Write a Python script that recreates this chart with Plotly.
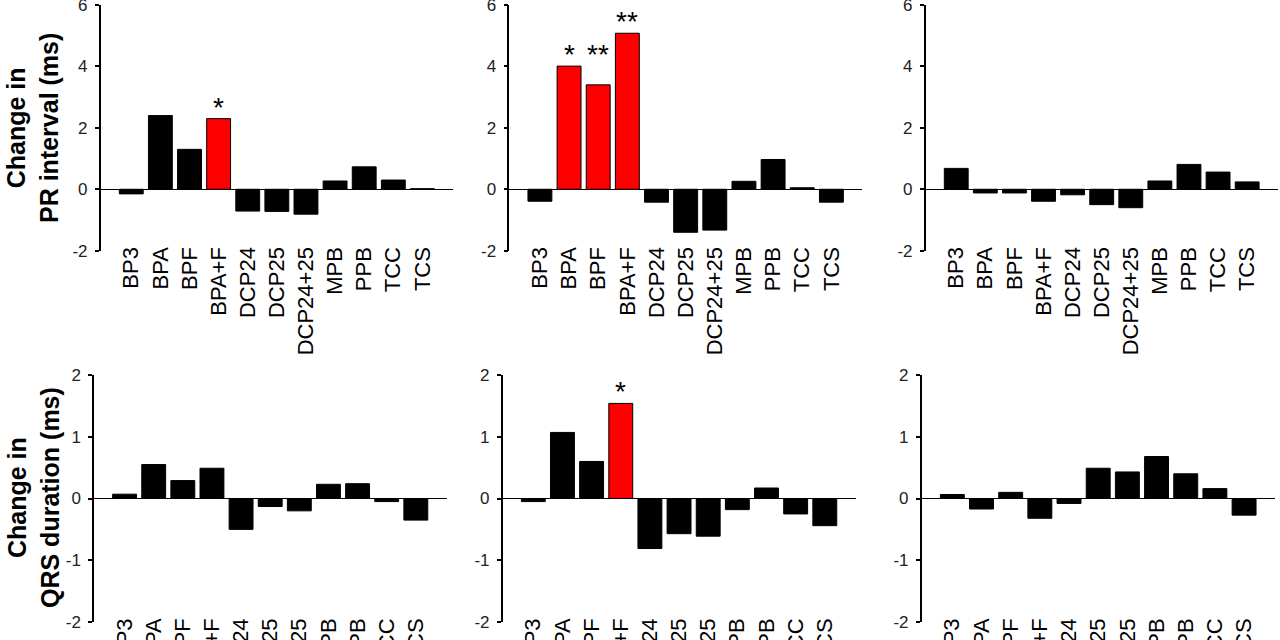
import plotly.graph_objects as go

categories = ["BP3", "BPA", "BPF", "BPA+F", "DCP24", "DCP25", "DCP24+25",
              "MPB", "PPB", "TCC", "TCS"]

# Change in PR interval (ms), three panels (left -> right)
pr_a = [-0.15, 2.40, 1.30, 2.30, -0.71, -0.72, -0.81, 0.27, 0.73, 0.30, 0.02]
pr_b = [-0.39, 4.01, 3.40, 5.08, -0.42, -1.40, -1.33, 0.26, 0.97, 0.05, -0.42]
pr_c = [0.68, -0.12, -0.12, -0.39, -0.18, -0.50, -0.60, 0.27, 0.81, 0.56, 0.24]

# Change in QRS duration (ms)
qrs_a = [0.07, 0.55, 0.29, 0.49, -0.50, -0.13, -0.20, 0.23, 0.24, -0.05, -0.35]
qrs_b = [-0.05, 1.07, 0.60, 1.54, -0.81, -0.57, -0.61, -0.18, 0.17, -0.25, -0.44]
qrs_c = [0.065, -0.17, 0.10, -0.32, -0.08, 0.49, 0.43, 0.68, 0.40, 0.16, -0.27]

# significance marks
pr_a_sig = ["", "", "", "*", "", "", "", "", "", "", ""]
pr_b_sig = ["", "*", "**", "**", "", "", "", "", "", "", ""]
pr_c_sig = ["", "", "", "", "", "", "", "", "", "", ""]
qrs_a_sig = ["", "", "", "", "", "", "", "", "", "", ""]
qrs_b_sig = ["", "", "", "*", "", "", "", "", "", "", ""]
qrs_c_sig = ["", "", "", "", "", "", "", "", "", "", ""]

pr_ticks = [-2, 0, 2, 4, 6]
qrs_ticks = [-2, -1, 0, 1, 2]

W, H = 1280, 640
FONT = "Liberation Sans, Arial, sans-serif"

panels = [
    # values, sig, x-domain px, y-domain px (top, bottom), yrange, yticks
    (pr_a, pr_a_sig, (100.7, 453.3), (5, 250.7), [-2, 6], pr_ticks),
    (pr_b, pr_b_sig, (509.3, 862.3), (5, 250.7), [-2, 6], pr_ticks),
    (pr_c, pr_c_sig, (925.7, 1278.0), (5, 250.7), [-2, 6], pr_ticks),
    (qrs_a, qrs_a_sig, (94.0, 446.7), (375, 622), [-2, 2], qrs_ticks),
    (qrs_b, qrs_b_sig, (502.7, 855.7), (375, 622), [-2, 2], qrs_ticks),
    (qrs_c, qrs_c_sig, (921.7, 1275.0), (375, 622), [-2, 2], qrs_ticks),
]

fig = go.Figure()
layout = {}
annotations = []

for i, (vals, sig, (x0, x1), (ytop, ybot), yr, yt) in enumerate(panels, start=1):
    xa = "x" if i == 1 else f"x{i}"
    ya = "y" if i == 1 else f"y{i}"
    colors = ["#FF0000" if s else "#000000" for s in sig]
    fig.add_trace(go.Bar(
        x=list(range(len(categories))), y=vals, xaxis=xa, yaxis=ya,
        width=0.82, marker=dict(color=colors, line=dict(color="#000000", width=1)),
        showlegend=False, hoverinfo="x+y",
    ))
    xkey = "xaxis" if i == 1 else f"xaxis{i}"
    ykey = "yaxis" if i == 1 else f"yaxis{i}"
    layout[xkey] = dict(
        domain=[x0 / W, x1 / W], anchor=ya, range=[-1.05, 11.06],
        tickmode="array", tickvals=list(range(len(categories))), ticktext=categories,
        tickangle=-90, showline=False, showgrid=False, zeroline=False, ticks="",
        tickfont=dict(family=FONT, size=22, color="#000000"),
        ticklabelstandoff=-9, ticklabeloverflow="allow",
        automargin=False, fixedrange=True,
    )
    layout[ykey] = dict(
        domain=[1 - ybot / H, 1 - ytop / H], anchor=xa, range=yr,
        tickmode="array", tickvals=yt, ticktext=[str(v) for v in yt],
        showline=True, linecolor="#000000", linewidth=1.5,
        ticks="outside", ticklen=4, tickwidth=1.5, tickcolor="#000000",
        showgrid=False, zeroline=True, zerolinecolor="#000000", zerolinewidth=1.3,
        tickfont=dict(family=FONT, size=17, color="#222222"),
        ticklabelstandoff=4, ticklabeloverflow="allow",
        automargin=False, fixedrange=True,
    )
    for j, s in enumerate(sig):
        if s:
            # stars of adjacent significant bars share one baseline (the taller bar)
            ystar = vals[j]
            if j > 0 and sig[j - 1]:
                ystar = max(ystar, vals[j - 1])
            annotations.append(dict(
                x=j, y=ystar, xref=xa, yref=ya, text=s, showarrow=False,
                yanchor="bottom", xanchor="center", yshift=-6,
                font=dict(family=FONT, size=28, color="#000000"),
            ))

annotations.append(dict(
    x=33 / W, y=1 - 128 / H, xref="paper", yref="paper",
    text="<b>Change in<br>PR interval (ms)</b>", textangle=-90, showarrow=False,
    xanchor="center", yanchor="middle",
    font=dict(family=FONT, size=25, color="#000000"),
))
annotations.append(dict(
    x=33 / W, y=1 - 498 / H, xref="paper", yref="paper",
    text="<b>Change in<br>QRS duration (ms)</b>", textangle=-90, showarrow=False,
    xanchor="center", yanchor="middle",
    font=dict(family=FONT, size=25, color="#000000"),
))

fig.update_layout(
    width=W, height=H, margin=dict(l=0, r=0, t=0, b=0),
    paper_bgcolor="#FFFFFF", plot_bgcolor="#FFFFFF",
    annotations=annotations, bargap=0.18, **layout,
)

fig.write_html(
    "out.html",
    config={"displayModeBar": False},
    post_script="document.body.style.margin='0';document.body.style.overflow='hidden';",
)
